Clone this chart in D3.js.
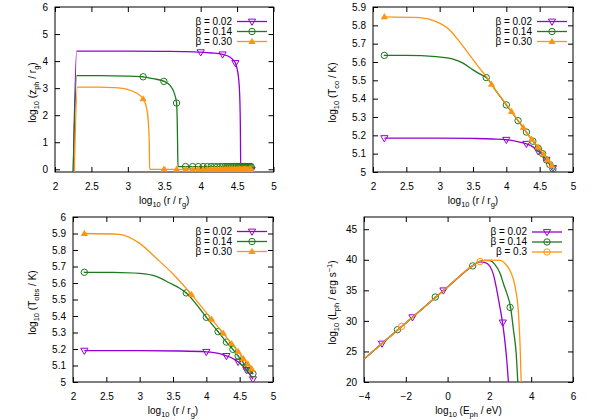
<!DOCTYPE html>
<html>
<head>
<meta charset="utf-8">
<script src="https://cdn.jsdelivr.net/npm/d3@7"></script>
<style>
body { margin: 0; background: #fff; }
text { font-family: "Liberation Sans", Arial, sans-serif; }
</style>
</head>
<body>
<svg id="chart" width="600" height="420"></svg>
<script>
var colors = ['#9400d3', '#1c7a1c', '#ff9411'];
var betaLabels = ['β = 0.02', 'β = 0.14', 'β = 0.30'];
var betaLabelsSpec = ['β = 0.02', 'β = 0.14', 'β = 0.3'];

// top left: log10 z_ph vs log10 r
var zph002 = [[2.25,-0.12],[2.298,4.37],[3.0,4.37],[3.5,4.36],[3.8,4.35],[4.0,4.33],[4.15,4.3],[4.3,4.25],[4.4,4.15],[4.45,4.03],[4.477,3.93],[4.5,3.72],[4.52,3.38],[4.535,2.8],[4.545,1.6],[4.55,-0.02],[4.7,-0.02]];
var zph014 = [[2.25,-0.12],[2.298,3.46],[2.6,3.46],[3.0,3.445],[3.21,3.42],[3.35,3.35],[3.5,3.25],[3.58,3.1],[3.63,2.87],[3.669,2.45],[3.678,1.8],[3.684,0.8],[3.688,0.1],[4.7,0.1]];
var zph030 = [[2.265,-0.12],[2.308,3.04],[2.6,3.04],[2.8,3.02],[3.0,2.95],[3.12,2.82],[3.21,2.6],[3.255,2.3],[3.28,1.8],[3.294,1.0],[3.3,0.0],[4.7,0.0]];
var zphMark002 = [[4.0,4.33],[4.301,4.25],[4.477,3.93],[4.602,-0.02],[4.699,-0.02]];
var zphMark014 = [[3.21,3.42],[3.495,3.25],[3.669,2.45]];
var zphMark030 = [[3.21,2.6]];
var zphFlatX = [3.495,3.669,3.793,3.889,3.968,4.034,4.092,4.143,4.189,4.230,4.268,4.302,4.335,4.364,4.392,4.419,4.443,4.467,4.489,4.510,4.531,4.550,4.568,4.586,4.603,4.619,4.635,4.650,4.665,4.679,4.693];
var zphFlatX014 = [3.793,3.889,3.968,4.034,4.092,4.143,4.189,4.230,4.268,4.302,4.335,4.364,4.392,4.419,4.443,4.467,4.489,4.510,4.531,4.550,4.568,4.586,4.603,4.619,4.635,4.650,4.665,4.679,4.693];

// top right: log10 T_co
var tco002 = [[2.17,5.185],[3.0,5.185],[3.5,5.183],[3.8,5.18],[4.0,5.176],[4.15,5.167],[4.301,5.154],[4.4,5.137],[4.477,5.114],[4.55,5.09],[4.602,5.067],[4.65,5.045],[4.699,5.022]];
var tco014 = [[2.17,5.636],[2.5,5.636],[2.95,5.629],[3.2,5.616],[3.35,5.594],[3.5,5.557],[3.6,5.535],[3.699,5.515],[3.85,5.44],[4.0,5.366],[4.176,5.28],[4.301,5.218],[4.398,5.168],[4.477,5.13],[4.544,5.1],[4.602,5.066],[4.653,5.04],[4.699,5.017]];
var tco030 = [[2.17,5.846],[2.7,5.842],[2.95,5.82],[3.15,5.775],[3.3,5.71],[3.45,5.638],[3.6,5.565],[3.7,5.52],[3.778,5.478],[4.079,5.33],[4.255,5.242],[4.38,5.178],[4.477,5.136],[4.556,5.097],[4.623,5.065],[4.681,5.035],[4.699,5.027]];
var tcoMark002 = [[2.17,5.185],[4.0,5.176],[4.301,5.154],[4.477,5.114],[4.602,5.067],[4.699,5.022]];
var tcoMark014 = [[2.17,5.636],[3.699,5.515],[4.0,5.366],[4.176,5.28],[4.301,5.218],[4.398,5.168],[4.477,5.13],[4.544,5.1],[4.602,5.066],[4.653,5.04],[4.699,5.017]];
var tcoMark030 = [[2.17,5.846],[3.778,5.478],[4.079,5.33],[4.255,5.242],[4.38,5.178],[4.477,5.136],[4.556,5.097],[4.623,5.065],[4.681,5.035]];

// bottom left: log10 T_obs
var tobs002 = [[2.17,5.19],[3.0,5.19],[3.6,5.188],[4.0,5.183],[4.2,5.172],[4.301,5.158],[4.4,5.142],[4.477,5.123],[4.54,5.1],[4.602,5.073],[4.65,5.047],[4.699,5.017]];
var tobs014 = [[2.17,5.665],[2.6,5.664],[3.0,5.658],[3.25,5.64],[3.45,5.6],[3.6,5.568],[3.699,5.54],[4.0,5.392],[4.176,5.305],[4.301,5.242],[4.398,5.198],[4.477,5.158],[4.544,5.123],[4.602,5.089],[4.653,5.068],[4.699,5.05]];
var tobs030 = [[2.17,5.9],[2.7,5.895],[3.0,5.84],[3.25,5.75],[3.5,5.655],[3.778,5.53],[4.079,5.38],[4.255,5.295],[4.38,5.232],[4.477,5.185],[4.556,5.142],[4.623,5.109],[4.681,5.08],[4.699,5.07]];
var tobsMark002 = [[2.17,5.19],[4.0,5.183],[4.301,5.158],[4.477,5.123],[4.602,5.073],[4.699,5.017]];
var tobsMark014 = [[2.17,5.665],[3.699,5.54],[4.0,5.392],[4.176,5.305],[4.301,5.242],[4.398,5.198],[4.477,5.158],[4.544,5.123],[4.602,5.089],[4.653,5.068],[4.699,5.05]];
var tobsMark030 = [[2.17,5.9],[3.778,5.53],[4.079,5.38],[4.255,5.295],[4.38,5.232],[4.477,5.185],[4.556,5.142],[4.623,5.109],[4.681,5.08]];

// bottom right: log10 L_ph vs log10 E_ph
var lph002 = [[-4,23.75],[-2,29.65],[0,35.55],[1.0,38.5],[1.3,39.25],[1.55,39.67],[1.8,39.55],[2.03,38.9],[2.2,37.5],[2.35,35.1],[2.5,32.3],[2.62,29.9],[2.72,27.3],[2.8,24.74],[2.91,20],[2.95,18]];
var lph014 = [[-4,23.75],[-2,29.65],[0,35.55],[1.2,39.05],[1.5,39.7],[1.8,39.9],[2.03,39.85],[2.25,39.3],[2.51,37.8],[2.7,35.8],[2.83,34.55],[3.02,32.1],[3.15,28.55],[3.28,24.74],[3.36,20],[3.4,18]];
var lph030 = [[-4,23.75],[-2,29.65],[0,35.55],[1.2,39.05],[1.55,39.75],[1.8,39.9],[2.1,39.95],[2.51,39.9],[2.75,39.4],[2.99,38.2],[3.23,35.6],[3.39,31.3],[3.47,25.8],[3.52,20],[3.55,17]];
var lphMark002 = [[-3.14,26.3],[-1.68,30.6],[-0.2,35.0],[2.64,29.75]];
var lphMark014 = [[-2.4,28.55],[-0.59,33.9],[1.2,39.0],[2.99,32.2]];
var lphMark030 = [[-2.2,29.1],[1.55,39.7]];

var rTicks = [2, 2.5, 3, 3.5, 4, 4.5, 5];
var zTicks = [0, 1, 2, 3, 4, 5, 6];
var tcoTicks = [5, 5.1, 5.2, 5.3, 5.4, 5.5, 5.6, 5.7, 5.8, 5.9];
var tobsTicks = [5, 5.1, 5.2, 5.3, 5.4, 5.5, 5.6, 5.7, 5.8, 5.9, 6];
var eTicks = [-4, -2, 0, 2, 4, 6];
var lTicks = [20, 25, 30, 35, 40, 45];

var xlabR = [['log'],['10','sub'],[' (r / r'],['g','sub'],[')']];

var svg = d3.select("#chart");
var fmt = function (d) { return String(d).replace('-', '\u2212'); };

function richText(t, segs) {
	var shift = 0;
	segs.forEach(function (s) {
		var want = s[1] == 'sub' ? 3 : (s[1] == 'sup' ? -4 : 0);
		t.append("tspan")
			.attr("dy", want - shift)
			.attr("font-size", s[1] ? 7.5 : 10)
			.text(s[0]);
		shift = want;
	});
}

function drawMarker(g, type, color, px, py) {
	if (type == 'tridown') {
		g.append("path").attr("d", "M-3.6,-2.4L3.6,-2.4L0,3.8Z")
			.attr("transform", "translate(" + px + "," + py + ")")
			.attr("fill", "none").attr("stroke", color).attr("stroke-width", 1);
	} else if (type == 'triup') {
		g.append("path").attr("d", "M-3.6,2.4L3.6,2.4L0,-3.8Z")
			.attr("transform", "translate(" + px + "," + py + ")")
			.attr("fill", color);
	} else {
		g.append("circle").attr("cx", px).attr("cy", py).attr("r", 3.2)
			.attr("fill", "none").attr("stroke", color).attr("stroke-width", 1);
		g.append("circle").attr("cx", px).attr("cy", py).attr("r", 0.7).attr("fill", color);
	}
}

function drawPanel(p) {
	var g = svg.append("g");
	var x = d3.scaleLinear().domain(p.xDomain).range([p.left, p.right]);
	var y = d3.scaleLinear().domain(p.yDomain).range([p.bottom, p.top]);

	svg.append("clipPath").attr("id", "clip" + p.id)
		.append("rect")
		.attr("x", p.left).attr("y", p.top)
		.attr("width", p.right - p.left).attr("height", p.bottom - p.top);

	var axes = [
		[d3.axisBottom(x).tickValues(p.xTicks).tickFormat(fmt).tickPadding(10.5), "translate(0," + p.bottom + ")"],
		[d3.axisTop(x).tickValues(p.xTicks).tickFormat(""), "translate(0," + p.top + ")"],
		[d3.axisLeft(y).tickValues(p.yTicks).tickFormat(fmt).tickPadding(7), "translate(" + p.left + ",0)"],
		[d3.axisRight(y).tickValues(p.yTicks).tickFormat(""), "translate(" + p.right + ",0)"]
	];
	axes.forEach(function (a) {
		var ag = g.append("g").attr("transform", a[1])
			.call(a[0].tickSizeInner(-5).tickSizeOuter(0));
		ag.select(".domain").remove();
		ag.attr("font-family", null).attr("font-size", 10);
	});

	g.append("rect")
		.attr("x", p.left).attr("y", p.top)
		.attr("width", p.right - p.left).attr("height", p.bottom - p.top)
		.attr("fill", "none").attr("stroke", "#000").attr("stroke-width", 1);

	var line = d3.line()
		.x(function (d) { return x(d[0]); })
		.y(function (d) { return y(d[1]); })
		.curve(d3.curveMonotoneX);

	var plot = g.append("g").attr("clip-path", "url(#clip" + p.id + ")");
	p.series.forEach(function (s, i) {
		plot.append("path").datum(s.line)
			.attr("d", line)
			.attr("fill", "none")
			.attr("stroke", colors[i])
			.attr("stroke-width", 1.3);
		s.marks.forEach(function (m) {
			drawMarker(plot, s.marker, colors[i], x(m[0]), y(m[1]));
		});
	});

	// legend
	p.series.forEach(function (s, i) {
		var ly = p.legendY + i * 10;
		g.append("text")
			.attr("x", p.legendX).attr("y", ly + 3)
			.attr("text-anchor", "end")
			.attr("font-size", 10)
			.text(p.legend[i]);
		g.append("line")
			.attr("x1", p.legendX + 5).attr("x2", p.legendX + 35)
			.attr("y1", ly).attr("y2", ly)
			.attr("stroke", colors[i]).attr("stroke-width", 1.3);
		drawMarker(g, s.marker, colors[i], p.legendX + 20, ly);
	});

	var xl = g.append("text")
		.attr("x", (p.left + p.right) / 2).attr("y", p.bottom + 31.5)
		.attr("text-anchor", "middle").attr("font-size", 10);
	richText(xl, p.xLabel);

	var cy = (p.top + p.bottom) / 2 + 3;
	var yl = g.append("text")
		.attr("transform", "translate(" + p.labelX + "," + cy + ") rotate(-90)")
		.attr("text-anchor", "middle").attr("font-size", 10);
	richText(yl, p.yLabel);
}

drawPanel({
	id: 1, left: 55, right: 273.5, top: 7, bottom: 172,
	xDomain: [2, 5], yDomain: [-0.1, 6], xTicks: rTicks, yTicks: zTicks,
	labelX: 35.5, legendX: 232, legendY: 21.5, legend: betaLabels,
	xLabel: xlabR,
	yLabel: [['log'],['10','sub'],[' (z'],['ph','sub'],[' / r'],['g','sub'],[')']],
	series: [
		{ line: zph002, marks: zphMark002, marker: 'tridown' },
		{ line: zph014, marks: zphMark014.concat(zphFlatX014.map(function (v) { return [v, 0.1]; })), marker: 'circdot' },
		{ line: zph030, marks: zphMark030.concat(zphFlatX.map(function (v) { return [v, 0]; })), marker: 'triup' }
	]
});

drawPanel({
	id: 2, left: 373, right: 573, top: 7, bottom: 172,
	xDomain: [2, 5], yDomain: [5, 5.9], xTicks: rTicks, yTicks: tcoTicks,
	labelX: 335.5, legendX: 532, legendY: 21.5, legend: betaLabels,
	xLabel: xlabR,
	yLabel: [['log'],['10','sub'],[' (T'],['co','sub'],[' / K)']],
	series: [
		{ line: tco002, marks: tcoMark002, marker: 'tridown' },
		{ line: tco014, marks: tcoMark014, marker: 'circdot' },
		{ line: tco030, marks: tcoMark030, marker: 'triup' }
	]
});

drawPanel({
	id: 3, left: 73, right: 273, top: 217, bottom: 382,
	xDomain: [2, 5], yDomain: [5, 6], xTicks: rTicks, yTicks: tobsTicks,
	labelX: 35.5, legendX: 232, legendY: 231.5, legend: betaLabels,
	xLabel: xlabR,
	yLabel: [['log'],['10','sub'],[' (T'],['obs','sub'],[' / K)']],
	series: [
		{ line: tobs002, marks: tobsMark002, marker: 'tridown' },
		{ line: tobs014, marks: tobsMark014, marker: 'circdot' },
		{ line: tobs030, marks: tobsMark030, marker: 'triup' }
	]
});

drawPanel({
	id: 4, left: 364, right: 573, top: 217, bottom: 382,
	xDomain: [-4, 6], yDomain: [20, 47], xTicks: eTicks, yTicks: lTicks,
	labelX: 335.5, legendX: 527, legendY: 232, legend: betaLabelsSpec,
	xLabel: [['log'],['10','sub'],[' (E'],['ph','sub'],[' / eV)']],
	yLabel: [['log'],['10','sub'],[' (L'],['ph','sub'],[' / erg s'],['\u22121','sup'],[')']],
	series: [
		{ line: lph002, marks: lphMark002, marker: 'tridown' },
		{ line: lph014, marks: lphMark014, marker: 'circdot' },
		{ line: lph030, marks: lphMark030, marker: 'circdot' }
	]
});
</script>
</body>
</html>
